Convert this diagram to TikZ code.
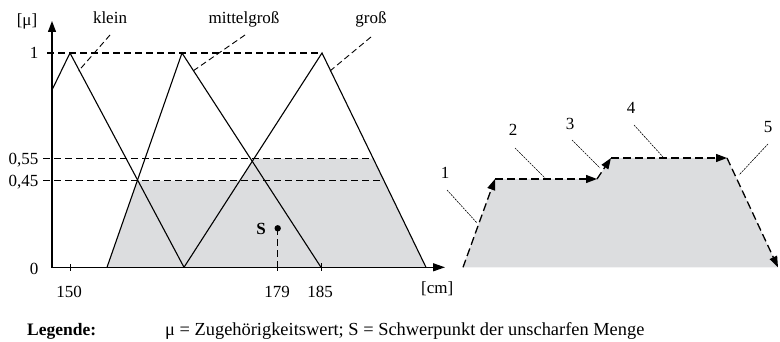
\documentclass[tikz,border=0pt]{standalone}
\usepackage{fontspec}
\setmainfont{Liberation Serif}
\usetikzlibrary{arrows.meta}
\definecolor{fillgray}{RGB}{220,221,223}
\begin{document}
\begin{tikzpicture}[x=1pt,y=-1pt,
  lbl/.style={font=\fontsize{17}{20}\selectfont, inner sep=0pt},
  curve/.style={line width=1.1pt, line join=miter},
  axis/.style={line width=1.3pt},
  lvl/.style={line width=1.1pt, dash pattern=on 7pt off 4pt},
  lead/.style={line width=0.9pt, dash pattern=on 6pt off 3.5pt},
  thinlead/.style={line width=0.6pt, dash pattern=on 2pt off 1pt},
  tick/.style={line width=0.9pt},
  edgearrow/.style={line width=1.3pt, dash pattern=on 8pt off 4pt, -{Triangle[length=11pt,width=8pt]}},
]
\useasboundingbox (0,0) rectangle (780,342);

% ---------- coordinates (left chart) ----------
\coordinate (O) at (52,267.3);
\coordinate (ytip) at (52,21);
\coordinate (xtip) at (445,267.3);
% klein
\coordinate (k0) at (52,90);
\coordinate (k1) at (70,53);
\coordinate (k2) at (184,267.3);
% mittelgross
\coordinate (m0) at (107,267.3);
\coordinate (m1) at (182,53);
\coordinate (m2) at (321,267.3);
% gross
\coordinate (g0) at (184,267.3);
\coordinate (g1) at (322,53);
\coordinate (g2) at (426,267.3);
% aggregated region
\coordinate (a1) at (137.3,180.7);
\coordinate (a2) at (239.8,180.7);
\coordinate (a3) at (253.9,158.7);
\coordinate (a4) at (373.3,158.7);
% level lines
\coordinate (l1s) at (47,53);
\coordinate (l55s) at (43,158.7);
\coordinate (l55e) at (373.3,158.7);
\coordinate (l45s) at (43,180.7);
\coordinate (l45e) at (384,180.7);
% S
\coordinate (S) at (277.7,228.3);
\coordinate (Sb) at (277.7,271);

% gray result
\fill[fillgray] (m0) -- (a1) -- (a2) -- (a3) -- (a4) -- (g2) -- cycle;

% level lines
\draw[lvl] (l1s) -- (g1);
\draw[lvl] (l55s) -- (l55e);
\draw[lvl] (l45s) -- (l45e);

% membership functions
\draw[curve] (k0) -- (k1) -- (k2);
\draw[curve] (m0) -- (m1) -- (m2);
\draw[curve] (g0) -- (g1) -- (g2);

% axes
\draw[axis, {Triangle[length=11pt,width=8pt]}-{Triangle[length=12pt,width=8pt]}] (ytip) -- (O) -- (xtip);

% ticks
\coordinate (t150a) at (70,264); \coordinate (t150b) at (70,271);
\coordinate (t185a) at (321,263); \coordinate (t185b) at (321,271);
\draw[tick] (t150a) -- (t150b);
\draw[tick] (t185a) -- (t185b);
\draw[tick] (277.7,264) -- (Sb);

% centre of gravity
\draw[lvl, line width=1pt] (S) -- (Sb);
\fill (S) circle (3.2);
\node[lbl, font=\fontsize{17}{20}\selectfont\bfseries, anchor=base east] (Slbl) at (266,235) {S};

% axis labels
\node[lbl, anchor=base] (mu) at (27,26) {[μ]};
\node[lbl, anchor=base east] (y1) at (38.5,59) {1};
\node[lbl, anchor=base east] (y55) at (38.5,165) {0,55};
\node[lbl, anchor=base east] (y45) at (38.5,187) {0,45};
\node[lbl, anchor=base east] (y0) at (38.5,275) {0};
\node[lbl, anchor=base] (x150) at (69,297) {150};
\node[lbl, anchor=base] (x179) at (277,297) {179};
\node[lbl, anchor=base] (x185) at (320,297) {185};
\node[lbl, anchor=base west] (xcm) at (421,293) {[cm]};

% set names with leaders
\node[lbl, anchor=base] (klein) at (110,24) {klein};
\node[lbl, anchor=base] (mittel) at (244,24) {mittelgroß};
\node[lbl, anchor=base] (gross) at (371,24) {groß};
\coordinate (kl1) at (110,35); \coordinate (kl2) at (78.5,71);
\coordinate (ml1) at (245,35); \coordinate (ml2) at (193,71);
\coordinate (gl1) at (371,37); \coordinate (gl2) at (330,71);
\draw[lead] (kl1) -- (kl2);
\draw[lead] (ml1) -- (ml2);
\draw[lead] (gl1) -- (gl2);

% ---------- right figure ----------
\coordinate (P1) at (463,267.3);
\coordinate (P2) at (495,179);
\coordinate (P3) at (597,179);
\coordinate (P4) at (611,158);
\coordinate (P5) at (727,158);
\coordinate (P6) at (778,267.3);
\fill[fillgray] (P1) -- (P2) -- (P3) -- (P4) -- (P5) -- (P6) -- cycle;
\draw[edgearrow] (P1) -- (P2);
\draw[edgearrow] (P2) -- (P3);
\draw[edgearrow] (P3) -- (P4);
\draw[edgearrow] (P4) -- (P5);
\draw[edgearrow] (P5) -- (P6);

\node[lbl, anchor=base] (n1) at (445,179) {1};
\node[lbl, anchor=base] (n2) at (513,136) {2};
\node[lbl, anchor=base] (n3) at (570,130) {3};
\node[lbl, anchor=base] (n4) at (631,114) {4};
\node[lbl, anchor=base] (n5) at (768,133) {5};
\coordinate (e1) at (477,223); \coordinate (s1) at (447,190);
\coordinate (e2) at (545,178); \coordinate (s2) at (515,148);
\coordinate (e3) at (600,168); \coordinate (s3) at (572,140);
\coordinate (e4) at (663,157); \coordinate (s4) at (634,125);
\coordinate (e5) at (739,175); \coordinate (s5) at (768,144);
\draw[thinlead] (s1) -- (e1);
\draw[thinlead] (s2) -- (e2);
\draw[thinlead] (s3) -- (e3);
\draw[thinlead] (s4) -- (e4);
\draw[thinlead] (s5) -- (e5);

% legend
\node[lbl, font=\fontsize{17.5}{20}\selectfont\bfseries, anchor=base west] (leg) at (27,335) {Legende:};
\node[lbl, font=\fontsize{18.4}{21}\selectfont, anchor=base west] (legtext) at (165,335) {μ = Zugehörigkeitswert; S = Schwerpunkt der unscharfen Menge};
\end{tikzpicture}
\end{document}
